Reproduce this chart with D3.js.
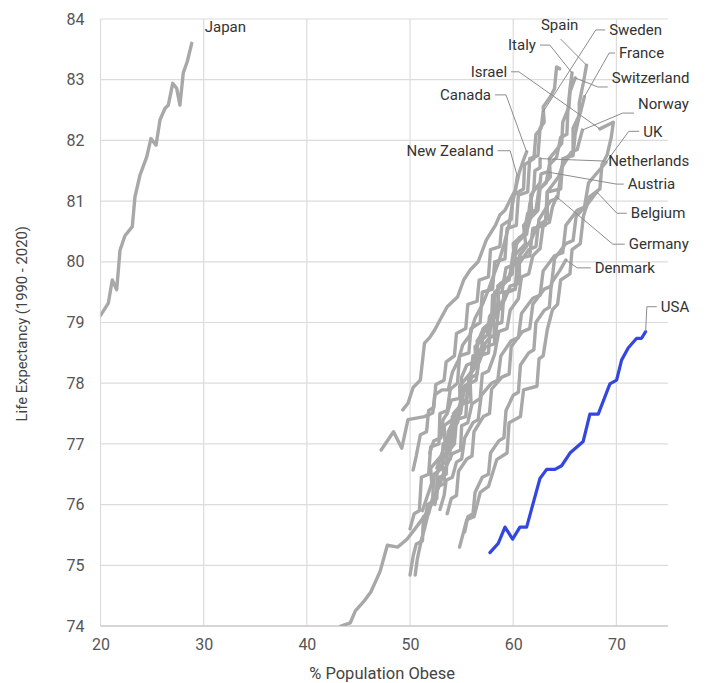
<!DOCTYPE html>
<html><head><meta charset="utf-8">
<script src="https://cdn.jsdelivr.net/npm/d3@7"></script>
<style>
body{margin:0;background:#fff}
text{font-family:Roboto,"Noto Sans",sans-serif}
</style>
</head><body>
<svg id="chart" width="707" height="683"></svg>
<script>
// Obesity share (x) against life expectancy (y), one path per country, 1990-2020
const xTicks = [20, 30, 40, 50, 60, 70];
const yTicks = [74, 75, 76, 77, 78, 79, 80, 81, 82, 83, 84];

const japan = [[20.02,79.12],[20.76,79.32],[21.14,79.70],[21.57,79.54],[21.89,80.19],[22.37,80.43],[23.08,80.58],[23.34,81.07],[23.83,81.43],[24.48,81.73],[24.89,82.03],[25.38,81.92],[25.77,82.34],[26.26,82.53],[26.57,82.58],[27.00,82.94],[27.38,82.86],[27.70,82.58],[28.02,83.11],[28.41,83.30],[28.84,83.60]];
const usa = [[57.74,75.21],[58.55,75.36],[59.20,75.63],[59.94,75.43],[60.65,75.63],[61.30,75.63],[62.59,76.43],[63.24,76.58],[64.04,76.58],[64.69,76.64],[65.50,76.85],[66.78,77.04],[67.43,77.49],[68.24,77.49],[69.37,77.99],[70.02,78.05],[70.50,78.38],[71.14,78.58],[71.96,78.74],[72.44,78.74],[72.83,78.85]];
const germany = [[43.3,74.0],[44.2,74.05],[44.7,74.25],[45.5,74.4],[46.2,74.56],[47.1,74.9],[47.8,75.33],[48.8,75.3],[49.7,75.43],[50.7,75.65],[51.7,75.88],[52.4,76.13],[52.9,76.34],[53.4,76.59],[54.1,76.84],[54.9,76.9],[55.0,77.3],[55.6,77.35],[56.0,77.66],[56.8,77.75],[57.0,78.15],[57.6,78.2],[58.2,78.48],[58.6,78.85],[59.4,78.9],[59.7,79.2],[60.5,79.39],[60.8,79.75],[61.5,79.8],[61.9,80.1],[62.6,80.22],[62.9,80.6],[63.5,80.65],[63.8,80.9],[64.2,81.07]];
const canada = [[49.3,77.56],[49.8,77.67],[50.3,77.93],[51.0,78.05],[51.4,78.66],[51.9,78.75],[52.4,78.88],[52.9,79.04],[53.6,79.26],[54.6,79.42],[55.2,79.70],[55.8,79.86],[56.6,80.0],[57.4,80.36],[58.3,80.61],[58.7,80.77],[59.2,80.85],[59.7,81.02],[60.2,81.18],[60.6,81.48],[61.0,81.68],[61.3,81.81]];
const newZealand = [[47.2,76.90],[48.4,77.2],[49.2,76.93],[49.8,77.40],[51.4,77.45],[52.2,77.51],[52.4,77.81],[53.1,77.89],[53.7,77.89],[54.1,78.18],[54.7,78.38],[55.1,78.63],[55.8,78.79],[56.3,79.07],[57.0,79.29],[57.6,79.54],[58.1,79.78],[58.6,80.0],[59.1,80.28],[59.6,80.61],[59.9,80.94],[60.2,81.18],[60.4,81.41]];
const italy = [[50.0,74.84],[50.3,75.15],[50.6,75.35],[51.2,75.4],[51.3,75.8],[51.8,75.85],[52.2,76.12],[52.3,76.5],[53.1,76.6],[53.2,77.0],[54.0,77.05],[54.1,77.45],[54.8,77.5],[55.2,77.95],[55.8,78.0],[56.1,78.45],[56.9,78.5],[57.1,78.9],[57.9,79.02],[58.0,79.45],[58.9,79.5],[59.3,79.9],[60.1,79.95],[60.3,80.3],[61.0,80.42],[61.4,80.8],[62.2,80.85],[62.5,81.2],[63.2,81.3],[63.5,81.6],[64.2,81.72],[64.6,82.05],[65.2,82.1],[65.3,82.5],[65.5,82.85],[65.7,83.11]];
const spain = [[50.5,74.84],[50.7,75.1],[51.1,75.42],[51.4,75.6],[51.9,75.95],[52.4,76.1],[52.8,76.45],[53.5,76.5],[53.6,76.85],[54.3,77.0],[54.5,77.4],[55.4,77.45],[55.6,77.98],[56.4,78.05],[56.7,78.45],[57.6,78.5],[57.8,78.95],[58.9,79.0],[59.1,79.5],[60.2,79.55],[60.4,80.05],[61.6,80.1],[61.9,80.55],[63.1,80.6],[63.3,81.15],[64.6,81.2],[64.8,81.7],[65.8,81.75],[66.0,82.1],[66.4,82.4],[66.4,82.62],[66.8,82.95],[67.1,83.24]];
const israel = [[54.8,75.3],[55.5,75.75],[56.2,75.8],[56.8,76.2],[57.6,76.3],[58.4,76.74],[59.4,76.85],[59.6,77.35],[60.7,77.45],[61.0,77.89],[62.3,77.95],[62.5,78.4],[62.9,78.45],[63.3,78.88],[63.8,79.21],[64.3,79.3],[64.6,79.7],[65.5,79.8],[65.7,80.2],[66.5,80.3],[66.8,80.75],[67.4,81.07],[68.4,81.2],[68.6,81.6],[69.1,81.76],[69.5,82.05],[69.7,82.3],[68.4,82.19]];
const sweden = [[50.3,76.57],[50.6,76.8],[51.0,77.15],[51.6,77.2],[51.8,77.55],[52.3,77.6],[52.5,77.98],[53.3,78.05],[53.5,78.35],[54.3,78.45],[54.5,78.82],[55.4,78.9],[55.6,79.3],[56.5,79.35],[56.7,79.7],[57.6,79.75],[57.8,80.2],[58.7,80.25],[58.9,80.6],[59.8,80.7],[60.0,81.1],[61.0,81.2],[61.1,81.6],[62.0,81.7],[62.2,82.1],[62.7,82.2],[62.9,82.47]];
const australia = [[50.0,75.6],[50.4,75.85],[50.9,75.9],[51.1,76.45],[51.8,76.5],[52.0,76.95],[52.8,77.0],[52.9,77.5],[53.6,77.55],[53.9,77.9],[54.6,78.0],[54.8,78.45],[55.7,78.5],[55.9,78.9],[56.8,79.0],[57.0,79.5],[58.0,79.55],[58.2,80.0],[59.2,80.05],[59.4,80.55],[60.3,80.6],[60.5,81.1],[61.4,81.15],[61.6,81.7],[62.4,81.75],[62.6,82.2],[63.0,82.3],[62.9,82.55],[63.6,82.72],[64.0,82.85],[64.2,83.21],[64.5,83.18]];
const switzerland = [[52.4,76.0],[52.7,76.3],[53.4,76.35],[53.1,76.7],[54.0,77.0],[54.4,77.3],[54.2,77.5],[55.5,77.75],[55.7,78.1],[56.4,78.3],[56.3,78.6],[57.5,78.8],[57.7,79.1],[58.6,79.3],[58.5,79.6],[59.9,79.8],[60.1,80.1],[61.2,80.3],[61.0,80.6],[62.4,80.85],[62.6,81.2],[63.6,81.4],[63.5,81.7],[64.7,81.95],[64.8,82.3],[65.4,82.55],[65.5,82.8],[66.0,83.03]];
const france = [[51.4,75.7],[51.7,76.0],[52.6,76.1],[52.6,76.5],[53.0,76.65],[53.9,76.75],[53.8,77.15],[54.6,77.35],[55.0,77.65],[55.9,77.7],[55.8,78.15],[56.7,78.35],[57.3,78.6],[58.2,78.65],[58.1,79.05],[59.1,79.35],[59.7,79.6],[60.6,79.65],[60.6,80.1],[61.7,80.35],[62.4,80.6],[63.3,80.7],[63.3,81.15],[64.4,81.4],[65.0,81.7],[65.8,81.8],[65.8,82.2],[66.5,82.45],[66.9,82.72]];
const netherlands = [[51.9,76.85],[52.3,77.05],[53.0,77.1],[53.2,77.4],[53.6,77.5],[54.0,77.72],[54.8,77.75],[55.0,78.1],[55.5,78.3],[56.3,78.35],[56.6,78.7],[57.1,78.9],[57.9,78.95],[58.2,79.4],[58.8,79.65],[59.6,79.7],[60.0,80.15],[60.6,80.4],[61.3,80.45],[61.6,80.95],[62.0,81.2],[62.1,81.5],[62.6,81.55],[62.6,81.7]];
const austria = [[51.2,75.9],[51.6,76.1],[52.1,76.35],[52.0,76.6],[53.0,76.8],[53.4,77.0],[53.3,77.3],[54.5,77.45],[54.9,77.7],[54.8,77.95],[56.0,78.2],[56.6,78.4],[56.5,78.7],[57.7,78.95],[58.3,79.2],[58.2,79.5],[59.5,79.7],[60.1,80.0],[60.0,80.3],[61.3,80.5],[61.8,80.8],[61.7,81.1],[62.6,81.3],[62.7,81.45],[63.3,81.48]];
const norway = [[52.6,76.6],[53.0,76.8],[53.5,76.85],[53.7,77.2],[54.4,77.45],[54.9,77.5],[55.2,77.85],[56.0,78.1],[56.5,78.15],[56.8,78.55],[57.7,78.75],[58.3,78.8],[58.6,79.25],[59.5,79.5],[60.2,79.55],[60.5,79.95],[61.5,80.2],[62.2,80.25],[62.5,80.7],[63.6,81.0],[64.3,81.05],[64.7,81.55],[65.6,81.8],[66.2,81.85],[66.7,82.17]];
const uk = [[52.9,75.92],[53.3,76.15],[53.5,76.4],[54.1,76.45],[54.5,76.7],[55.0,76.75],[55.3,77.1],[56.1,77.35],[56.6,77.4],[56.9,77.8],[57.9,78.0],[58.5,78.05],[58.8,78.45],[59.8,78.7],[60.5,78.75],[60.8,79.15],[61.9,79.4],[62.6,79.45],[62.9,79.85],[64.0,80.1],[64.8,80.15],[65.1,80.6],[66.2,80.85],[66.9,80.9],[67.3,81.3],[68.3,81.5],[69.0,81.64]];
const belgium = [[53.6,75.85],[54.0,76.1],[54.5,76.15],[54.7,76.55],[55.5,76.75],[56.0,76.8],[56.2,77.2],[57.1,77.45],[57.7,77.5],[57.9,77.9],[58.9,78.1],[59.6,78.15],[59.8,78.6],[60.9,78.85],[61.6,78.9],[61.9,79.3],[63.0,79.55],[63.7,79.6],[64.0,80.05],[65.1,80.3],[65.8,80.35],[66.1,80.75],[67.2,80.95],[68.1,81.15]];
const denmark = [[55.3,75.55],[55.6,75.8],[56.1,75.85],[56.3,76.2],[57.0,76.45],[57.6,76.5],[57.8,76.85],[58.6,77.05],[59.1,77.1],[59.3,77.55],[60.0,77.8],[60.5,77.85],[60.7,78.3],[61.5,78.5],[62.0,78.55],[62.2,79.0],[63.0,79.2],[63.5,79.25],[63.7,79.65],[64.5,79.85],[65.1,80.03]];

const countries = ["Germany","Canada","New Zealand","Italy","Spain","Israel","Sweden","Australia","Switzerland","France","Netherlands","Austria","Norway","UK","Belgium","Denmark","Japan","USA"];
const values = [germany, canada, newZealand, italy, spain, israel, sweden, australia, switzerland, france, netherlands, austria, norway, uk, belgium, denmark, japan, usa];
const highlighted = "USA";

// label placement in chart units: text anchor point, elbow of the leader, leader height
const labelSpots = [
  {name:"Japan", lx:30.1, ly:83.87, anchor:"start", elbow:null},
  {name:"USA", lx:74.3, ly:79.26, anchor:"start", elbow:72.95},
  {name:"Spain", lx:64.5, ly:83.9, anchor:"middle", elbow:null, below:true},
  {name:"Sweden", lx:69.3, ly:83.82, anchor:"start", elbow:68.0},
  {name:"Italy", lx:62.2, ly:83.57, anchor:"end", elbow:63.55},
  {name:"France", lx:70.25, ly:83.44, anchor:"start", elbow:69.3},
  {name:"Israel", lx:59.4, ly:83.13, anchor:"end", elbow:60.55},
  {name:"Switzerland", lx:69.55, ly:83.03, anchor:"start", elbow:68.2, leaderY:82.88},
  {name:"Canada", lx:57.85, ly:82.75, anchor:"end", elbow:59.3},
  {name:"Norway", lx:72.1, ly:82.6, anchor:"start", elbow:70.6, leaderY:82.45},
  {name:"UK", lx:72.6, ly:82.15, anchor:"start", elbow:71.2},
  {name:"New Zealand", lx:58.1, ly:81.83, anchor:"end", elbow:59.7},
  {name:"Netherlands", lx:69.2, ly:81.66, anchor:"start", elbow:null},
  {name:"Austria", lx:71.1, ly:81.28, anchor:"start", elbow:70.0},
  {name:"Belgium", lx:71.4, ly:80.8, anchor:"start", elbow:70.05},
  {name:"Germany", lx:71.2, ly:80.29, anchor:"start", elbow:69.65},
  {name:"Denmark", lx:67.9, ly:79.9, anchor:"start", elbow:66.2}
];

const svg = d3.select("#chart");
const x = d3.scaleLinear().domain([20, 75]).range([100.5, 668]);
const y = d3.scaleLinear().domain([74, 84]).range([626, 19]);

// grid
const grid = svg.append("g");
grid.selectAll(".vx").data(xTicks).join("line")
  .attr("x1", d => x(d)).attr("x2", d => x(d))
  .attr("y1", y(84)).attr("y2", y(74))
  .attr("stroke", "#dcdcdc").attr("stroke-width", 1.2);
grid.selectAll(".hy").data(yTicks).join("line")
  .attr("x1", x(20)).attr("x2", x(75))
  .attr("y1", d => y(d)).attr("y2", d => y(d))
  .attr("stroke", d => d === 74 ? "#c8c8c8" : "#dcdcdc").attr("stroke-width", d => d === 74 ? 1.5 : 1.2);

// axes (labels only)
const xAxis = svg.append("g").attr("transform", `translate(0,${y(74)})`)
  .call(d3.axisBottom(x).tickValues(xTicks).tickSize(0).tickPadding(13));
const yAxis = svg.append("g").attr("transform", `translate(${x(20)},0)`)
  .call(d3.axisLeft(y).tickValues(yTicks).tickSize(0).tickPadding(16));
[xAxis, yAxis].forEach(a => {
  a.select(".domain").remove();
  a.selectAll("text").attr("font-size", 16).attr("fill", "#555")
    .attr("font-family", "Roboto, sans-serif");
});

svg.append("text").attr("x", x(47.3)).attr("y", 679)
  .attr("text-anchor", "middle").attr("font-size", 16.5).attr("fill", "#444")
  .text("% Population Obese");
svg.append("text").attr("transform", `translate(27,${y(78.98)}) rotate(-90)`)
  .attr("text-anchor", "middle").attr("font-size", 14.8).attr("fill", "#444")
  .text("Life Expectancy (1990 - 2020)");

// lines
svg.append("clipPath").attr("id", "plot").append("rect")
  .attr("x", x(20)).attr("y", y(84) - 5).attr("width", x(75) - x(20)).attr("height", y(74) - y(84) + 5);
const line = d3.line().x(d => x(d[0])).y(d => y(d[1]));
const series = countries.map((c, i) => ({name: c, pts: values[i]}));
const order = series.filter(s => s.name !== highlighted).concat(series.filter(s => s.name === highlighted));
svg.append("g").attr("clip-path", "url(#plot)")
  .selectAll("path").data(order).join("path")
  .attr("d", d => line(d.pts))
  .attr("fill", "none")
  .attr("stroke", d => d.name === highlighted ? "#3347e0" : "#a8a8a8")
  .attr("stroke-width", d => d.name === highlighted ? 3.2 : 3.4)
  .attr("stroke-linejoin", "round").attr("stroke-linecap", "round");

// labels with leader lines
const lab = svg.append("g");
labelSpots.forEach(l => {
  const s = series.find(d => d.name === l.name);
  const end = s.pts[s.pts.length - 1];
  const tx = x(l.lx), ty = y(l.ly);
  const ex = x(end[0]), ey = y(end[1]);
  if (l.name !== "Japan") {
    let pts;
    if (l.below) {
      pts = [[tx + 1, ty + 14], [ex, ey]];
    } else {
      const ly = l.leaderY != null ? y(l.leaderY) : ty;
      const sx = l.anchor === "end" ? tx + 4 : tx - 4;
      pts = l.elbow != null ? [[sx, ly], [x(l.elbow), ly], [ex, ey]] : [[sx, ly], [ex, ey]];
    }
    lab.append("path").attr("d", d3.line()(pts))
      .attr("fill", "none").attr("stroke", "#8c8c8c").attr("stroke-width", 1);
  }
  lab.append("text").attr("x", tx).attr("y", ty).attr("dy", "0.35em")
    .attr("text-anchor", l.anchor).attr("font-size", 15).attr("fill", "#333")
    .text(l.name);
});
</script>
</body></html>
